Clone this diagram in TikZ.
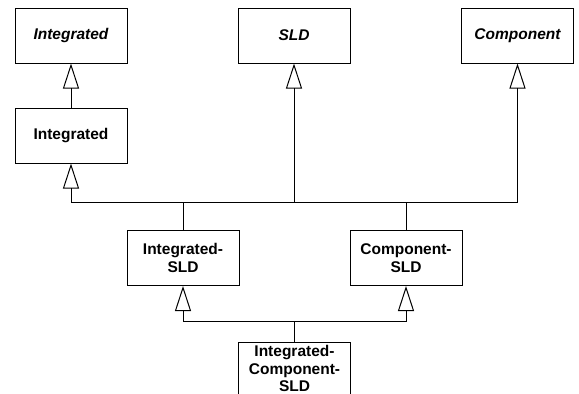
\documentclass[tikz,border=0pt]{standalone}
\usepackage{fontspec}
\setmainfont{Liberation Sans}
\usetikzlibrary{arrows.meta}
\tikzset{
	cls/.style={draw, line width=1pt, minimum width=112pt, minimum height=55pt, inner sep=2pt, align=center, font=\fontsize{15.5}{18}\selectfont\bfseries},
	abscls/.style={cls, font=\fontsize{15.5}{18}\selectfont\bfseries\itshape},
	gen/.style={line width=1pt, -{Triangle[open, width=16pt, length=25pt]}}
}
\begin{document}
\begin{tikzpicture}[x=1pt, y=-1pt]
		\useasboundingbox (0,0) rectangle (579,394);
		\node[abscls] (aint) at (71,35.5) {Integrated};
		\node[abscls] (sld) at (294,35.5) {SLD};
		\node[abscls] (comp) at (517.5,35.5) {Component};
		\node[cls] (int) at (71,135.5) {Integrated};
		\node[cls] (isld) at (183,258) {Integrated-\\SLD};
		\node[cls] (csld) at (406,258) {Component-\\SLD};
		\node[cls, anchor=north, minimum height=0pt, inner sep=3pt, text depth=10pt, font=\fontsize{15.5}{17.5}\selectfont\bfseries] (icsld) at (294.5,342) {Integrated-\\Component-\\SLD};
		
		\coordinate (bar) at (0,202);
		\coordinate (low) at (0,321);
		\draw[gen] (int) -- (aint);
		\draw[gen] (isld.north) |- (int.south |- bar) -- (int.south);
		\draw[gen] (isld.north) |- (sld.south |- bar) -- (sld.south);
		\draw[line width=1pt] (csld.north) |- (sld.south |- bar);
		\draw[gen] (csld.north) |- (comp.south |- bar) -- (comp.south);
		\draw[gen] (icsld.north) |- (isld.south |- low) -- (isld.south);
		\draw[gen] (icsld.north) |- (csld.south |- low) -- (csld.south);
	\end{tikzpicture}
\end{document}
